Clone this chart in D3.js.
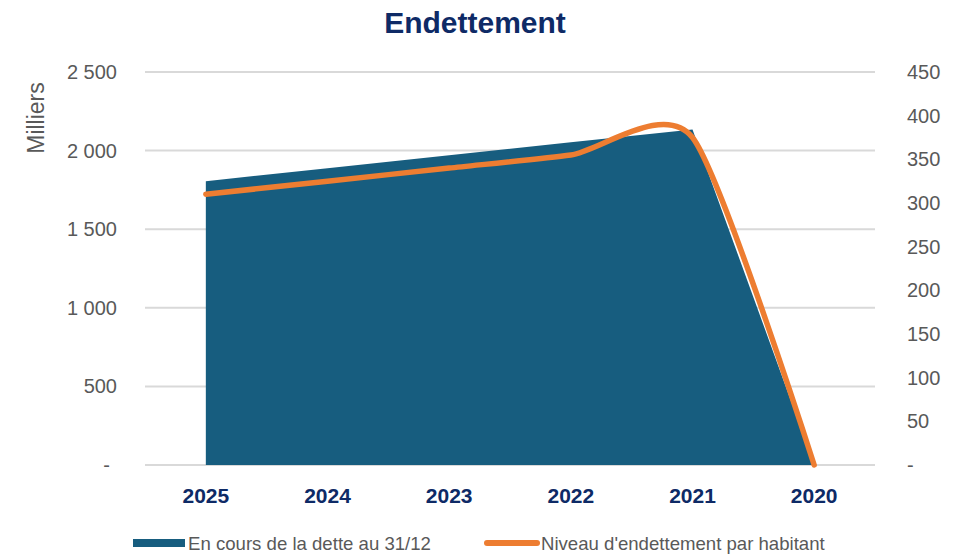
<!DOCTYPE html>
<html>
<head>
<meta charset="utf-8">
<script src="https://d3js.org/d3.v7.min.js"></script>
<style>
  body { margin: 0; background: #ffffff; }
  svg { font-family: "Liberation Sans", Arial, sans-serif; }
</style>
</head>
<body>
<script>
// data
var years = ["2025", "2024", "2023", "2022", "2021", "2020"];
var dette = [1805, 1888, 1970, 2053, 2135, 0];          // milliers
var parHabitant = [310, 325, 340, 355, 375, 0];
var leftTicks = [0, 500, 1000, 1500, 2000, 2500];
var rightTicks = [0, 50, 100, 150, 200, 250, 300, 350, 400, 450];
var seriesNames = ["En cours de la dette au 31/12", "Niveau d'endettement par habitant"];

var W = 969, H = 554;
var plotLeft = 145, plotRight = 875, plotTop = 72, plotBottom = 465;

var svg = d3.select("body").append("svg")
            .attr("width", W)
            .attr("height", H);

var x = d3.scalePoint()
          .domain(years)
          .range([plotLeft, plotRight])
          .padding(0.5);

var yLeft = d3.scaleLinear().domain([0, 2500]).range([plotBottom, plotTop]);
var yRight = d3.scaleLinear().domain([0, 450]).range([plotBottom, plotTop]);

function fmt(v) {
  if (v === 0) return "-";
  return d3.format(",")(v).replace(",", " ");
}

draw_grid();
draw_area();
draw_line();
draw_axes();
draw_title();
draw_legend();

function draw_grid() {
  svg.append("g").selectAll("line")
     .data(leftTicks)
     .enter()
     .append("line")
     .attr("x1", plotLeft)
     .attr("x2", plotRight)
     .attr("y1", function (d) { return yLeft(d); })
     .attr("y2", function (d) { return yLeft(d); })
     .attr("stroke", "#d9d9d9")
     .attr("stroke-width", 2);
}

function draw_area() {
  var area = d3.area()
               .x(function (d, i) { return x(years[i]); })
               .y0(yLeft(0))
               .y1(function (d) { return yLeft(d); });
  svg.append("path")
     .datum(dette)
     .attr("d", area)
     .attr("fill", "#175d7f");
}

function draw_line() {
  var line = d3.line()
               .x(function (d, i) { return x(years[i]); })
               .y(function (d) { return yRight(d); })
               .curve(d3.curveCardinal.tension(0.3));
  svg.append("path")
     .datum(parHabitant)
     .attr("d", line)
     .attr("fill", "none")
     .attr("stroke", "#ed7d31")
     .attr("stroke-width", 5.5)
     .attr("stroke-linecap", "round")
     .attr("stroke-linejoin", "round");
}

function draw_axes() {
  // left axis labels
  svg.append("g").selectAll("text")
     .data(leftTicks)
     .enter()
     .append("text")
     .attr("x", function (d) { return d === 0 ? 110 : 117; })
     .attr("y", function (d) { return yLeft(d); })
     .attr("dy", "0.35em")
     .attr("text-anchor", "end")
     .attr("font-size", 20)
     .attr("fill", "#595959")
     .text(fmt);

  // right axis labels
  svg.append("g").selectAll("text")
     .data(rightTicks)
     .enter()
     .append("text")
     .attr("x", 907)
     .attr("y", function (d) { return yRight(d); })
     .attr("dy", "0.35em")
     .attr("text-anchor", "start")
     .attr("font-size", 20)
     .attr("fill", "#595959")
     .text(fmt);

  // category labels
  svg.append("g").selectAll("text")
     .data(years)
     .enter()
     .append("text")
     .attr("x", function (d) { return x(d); })
     .attr("y", 496)
     .attr("dy", "0.35em")
     .attr("text-anchor", "middle")
     .attr("font-size", 21)
     .attr("font-weight", "bold")
     .attr("fill", "#0e2a66")
     .text(function (d) { return d; });

  // unit title
  svg.append("text")
     .attr("transform", "translate(44,118) rotate(-90)")
     .attr("text-anchor", "middle")
     .attr("font-size", 23)
     .attr("fill", "#595959")
     .text("Milliers");
}

function draw_title() {
  svg.append("text")
     .attr("x", 475)
     .attr("y", 22)
     .attr("dy", "0.35em")
     .attr("text-anchor", "middle")
     .attr("font-size", 30)
     .attr("font-weight", "bold")
     .attr("fill", "#0e2a66")
     .text("Endettement");
}

function draw_legend() {
  var lg = svg.append("g");
  lg.append("rect")
    .attr("x", 133)
    .attr("y", 539)
    .attr("width", 52)
    .attr("height", 8)
    .attr("fill", "#175d7f");
  lg.append("text")
    .attr("x", 188)
    .attr("y", 543)
    .attr("dy", "0.35em")
    .attr("font-size", 18.6)
    .attr("fill", "#595959")
    .text(seriesNames[0]);

  lg.append("line")
    .attr("x1", 487)
    .attr("x2", 537)
    .attr("y1", 543)
    .attr("y2", 543)
    .attr("stroke", "#ed7d31")
    .attr("stroke-width", 6)
    .attr("stroke-linecap", "round");
  lg.append("text")
    .attr("x", 541)
    .attr("y", 543)
    .attr("dy", "0.35em")
    .attr("font-size", 18.6)
    .attr("fill", "#595959")
    .text(seriesNames[1]);
}
</script>
</body>
</html>
